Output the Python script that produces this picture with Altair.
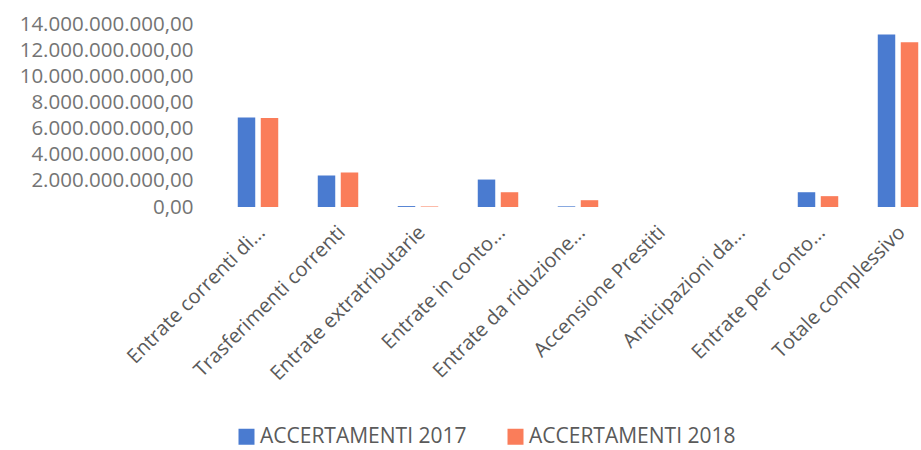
import altair as alt
import pandas as pd

categories = [
    "Entrate correnti di...",
    "Trasferimenti correnti",
    "Entrate extratributarie",
    "Entrate in conto...",
    "Entrate da riduzione...",
    "Accensione Prestiti",
    "Anticipazioni da...",
    "Entrate per conto...",
    "Totale complessivo",
]
series = ["ACCERTAMENTI 2017", "ACCERTAMENTI 2018"]
values_2017 = [6.85e9, 2.41e9, 0.07e9, 2.10e9, 0.05e9, 0.0, 0.0, 1.13e9, 13.2e9]
values_2018 = [6.80e9, 2.64e9, 0.04e9, 1.13e9, 0.52e9, 0.0, 0.0, 0.83e9, 12.61e9]
y_ticks = [0, 2e9, 4e9, 6e9, 8e9, 10e9, 12e9, 14e9]
colors = ["#4a7bd0", "#fa7d5a"]

rows = []
for c, a, b in zip(categories, values_2017, values_2018):
    rows.append({"cat": c, "serie": series[0], "val": a})
    rows.append({"cat": c, "serie": series[1], "val": b})
df = pd.DataFrame(rows)

label_expr = (
    "replace(replace(replace(format(datum.value, ',.2f'), regexp(',', 'g'), '_'),"
    " regexp('\\\\.', 'g'), ','), regexp('_', 'g'), '.')"
)

chart = (
    alt.Chart(df)
    .mark_bar()
    .encode(
        x=alt.X(
            "cat:N",
            sort=categories,
            title=None,
            scale=alt.Scale(range=[0, 720], paddingInner=0.494, paddingOuter=0.247),
            axis=alt.Axis(
                labelAngle=-45,
                labelAlign="right",
                labelBaseline="middle",
                labelPadding=22,
                labelOffset=4,
                labelFontSize=20,
                labelColor="#5a5a5a",
                labelLimit=0,
                ticks=False,
                tickSize=0,
                domain=False,
                grid=False,
            ),
        ),
        xOffset=alt.XOffset(
            "serie:N", sort=series, scale=alt.Scale(paddingInner=0.24, paddingOuter=0)
        ),
        y=alt.Y(
            "val:Q",
            title=None,
            scale=alt.Scale(domain=[0, 14e9], nice=False),
            axis=alt.Axis(
                values=y_ticks,
                labelExpr=label_expr,
                labelFontSize=20.5,
                labelColor="#747474",
                labelPadding=25,
                ticks=False,
                tickSize=0,
                domain=False,
                grid=False,
            ),
        ),
        color=alt.Color(
            "serie:N",
            sort=series,
            scale=alt.Scale(domain=series, range=colors),
            title=None,
            legend=alt.Legend(
                orient="none",
                legendX=18,
                legendY=402,
                direction="horizontal",
                symbolType="square",
                symbolSize=256,
                symbolStrokeWidth=0,
                labelFontSize=21,
                labelColor="#5a5a5a",
                labelOffset=3,
                columnPadding=38,
                padding=0,
                labelLimit=0,
            ),
        ),
    )
    .properties(
        width=703,
        height=183,
        autosize=alt.AutoSizeParams(type="none"),
        padding={"left": 218, "top": 24, "right": 0, "bottom": 243},
        background="white",
    )
    .configure(font="Open Sans")
    .configure_view(stroke=None)
)

chart.save("out.html", embed_options={"renderer": "svg", "actions": False})
